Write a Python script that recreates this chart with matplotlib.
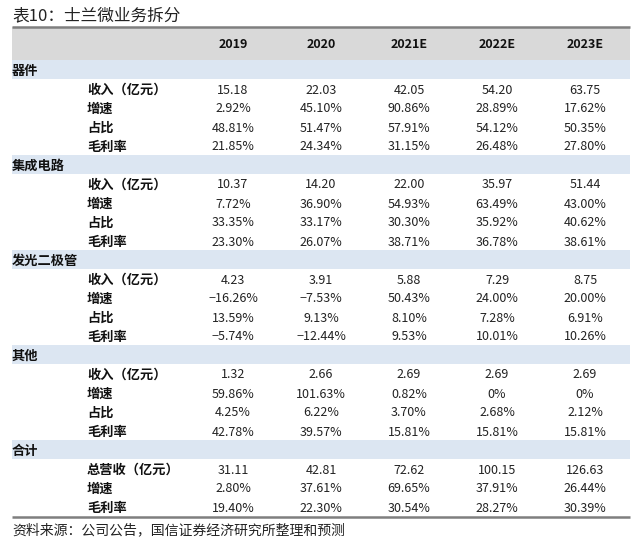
import matplotlib
matplotlib.use("Agg")
import matplotlib.pyplot as plt
from matplotlib.patches import Rectangle

plt.rcParams['font.family'] = ['Noto Sans CJK SC', 'DejaVu Sans']

title = "表10：士兰微业务拆分"
source = "资料来源：公司公告，国信证券经济研究所整理和预测"
years = ["2019", "2020", "2021E", "2022E", "2023E"]

sections = ["器件", "集成电路", "发光二极管", "其他", "合计"]
row_labels = [
    ["收入（亿元）", "增速", "占比", "毛利率"],
    ["收入（亿元）", "增速", "占比", "毛利率"],
    ["收入（亿元）", "增速", "占比", "毛利率"],
    ["收入（亿元）", "增速", "占比", "毛利率"],
    ["总营收（亿元）", "增速", "毛利率"],
]
values = [
    [["15.18", "22.03", "42.05", "54.20", "63.75"],
     ["2.92%", "45.10%", "90.86%", "28.89%", "17.62%"],
     ["48.81%", "51.47%", "57.91%", "54.12%", "50.35%"],
     ["21.85%", "24.34%", "31.15%", "26.48%", "27.80%"]],
    [["10.37", "14.20", "22.00", "35.97", "51.44"],
     ["7.72%", "36.90%", "54.93%", "63.49%", "43.00%"],
     ["33.35%", "33.17%", "30.30%", "35.92%", "40.62%"],
     ["23.30%", "26.07%", "38.71%", "36.78%", "38.61%"]],
    [["4.23", "3.91", "5.88", "7.29", "8.75"],
     ["−16.26%", "−7.53%", "50.43%", "24.00%", "20.00%"],
     ["13.59%", "9.13%", "8.10%", "7.28%", "6.91%"],
     ["−5.74%", "−12.44%", "9.53%", "10.01%", "10.26%"]],
    [["1.32", "2.66", "2.69", "2.69", "2.69"],
     ["59.86%", "101.63%", "0.82%", "0%", "0%"],
     ["4.25%", "6.22%", "3.70%", "2.68%", "2.12%"],
     ["42.78%", "39.57%", "15.81%", "15.81%", "15.81%"]],
    [["31.11", "42.81", "72.62", "100.15", "126.63"],
     ["2.80%", "37.61%", "69.65%", "37.91%", "26.44%"],
     ["19.40%", "22.30%", "30.54%", "28.27%", "30.39%"]],
]

W, H = 640, 545
fig = plt.figure(figsize=(W / 100, H / 100), dpi=100)
ax = fig.add_axes([0, 0, 1, 1])
ax.set_xlim(0, W)
ax.set_ylim(H, 0)
ax.axis('off')

left, right = 12, 630
top_line = 27
header_bottom = 60
row_h = 19.0
col_x = [233, 321, 409, 497, 585]
label_x = 87
dy = 1.5  # optical offset for vertical centring of CJK text

ax.text(left, 14.5 + dy, title, fontsize=12, ha='left', va='center', color='#222222')

# header band
ax.add_patch(Rectangle((left, top_line), right - left, header_bottom - top_line,
                       facecolor='#d9d9d9', edgecolor='none', zorder=1))
ax.plot([left, right], [top_line, top_line], color='#7f7f7f', lw=1.8, zorder=3,
        solid_capstyle='butt')
for x, yv in zip(col_x, years):
    ax.text(x, (top_line + header_bottom) / 2 + dy, yv, fontsize=9, fontweight='bold',
            ha='center', va='center', color='#111111')

y = header_bottom
for sec, labels, vals in zip(sections, row_labels, values):
    ax.add_patch(Rectangle((left, y), right - left, row_h,
                           facecolor='#dce6f2', edgecolor='none', zorder=1))
    ax.text(left, y + row_h / 2 + dy, sec, fontsize=9.5, fontweight='bold',
            ha='left', va='center', color='#111111')
    y += row_h
    for lab, rv in zip(labels, vals):
        yc = y + row_h / 2 + dy
        ax.text(label_x, yc, lab, fontsize=9.5, fontweight='bold',
                ha='left', va='center', color='#111111')
        for x, v in zip(col_x, rv):
            ax.text(x, yc, v, fontsize=9, ha='center', va='center', color='#222222')
        y += row_h

ax.plot([left, right], [y + 1, y + 1], color='#7f7f7f', lw=1.8, zorder=3,
        solid_capstyle='butt')
ax.text(left, y + 13 + dy, source, fontsize=10, ha='left', va='center', color='#222222')

fig.savefig("out.png", dpi=100)
